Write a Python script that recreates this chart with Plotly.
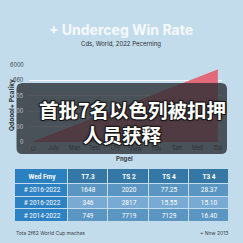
import plotly.graph_objects as go

# ---- data ----
months = ["Li", "July", "Man", "Test", "Uty", "View", "Tim", "Satt", "Mell", "Dal"]
rate = [0.0, 0.52, 1.04, 1.56, 2.08, 2.60, 3.12, 3.64, 4.16, 4.68]
y_tickvals = [0, 1, 2, 3, 4, 5]
y_ticktext = ["0", "100", "200", "505", "660", "6000"]

tbl_header = ["Wed Fmy", "T7.3", "TS 2", "TS 4", "T3 4"]
tbl_period = ["# 2016-2022", "# 2016-2022", "# 2014-2022"]
tbl_c1 = ["1648", "346", "749"]
tbl_c2 = ["2020", "2817", "7719"]
tbl_c3 = ["77.25", "15.55", "7129"]
tbl_c4 = ["28.37", "15.10", "16.40"]

title_txt = "+ Underceg Win Rate"
subtitle_txt = "Cds, World, 2022 Pecerning"
overlay_lines = ["首批7名以色列被扣押", "人员获释"]
footnote_left = "Tota 2f62 World Cup machas"
footnote_right = "+ Nnw 2013"

W = H = 243
BG = "#c3dceb"


def px(x):
    return x / W


def py(y):
    return 1 - y / H


fig = go.Figure()

fig.add_trace(go.Scatter(
    x=list(range(len(months))), y=rate, mode="lines",
    line=dict(color="#e0606f", width=1),
    fill="tozeroy", fillcolor="rgba(228,96,112,0.92)",
    hoverinfo="skip", showlegend=False,
))

# ---- table drawn as a heatmap grid ----
col_w = [53, 40, 40, 40, 40]
row_h = [15, 12.5, 12.5, 12.5]
x_edges = [0]
for w in col_w:
    x_edges.append(x_edges[-1] + w)
y_edges = [0]
for h in row_h:
    y_edges.append(y_edges[-1] + h)

rows = [[f"<b>{h}</b>" for h in tbl_header]]
for i in range(len(tbl_period)):
    rows.append([tbl_period[i], tbl_c1[i], tbl_c2[i], tbl_c3[i], tbl_c4[i]])
# colour class per cell: 0 header-first, 1 header, 2 first column, 3/4 alternating rows
zc = [[0] + [1] * 4]
for i in range(len(tbl_period)):
    zc.append([2] + [3 if i % 2 == 0 else 4] * 4)

fig.add_trace(go.Heatmap(
    x=x_edges, y=y_edges, z=zc, text=rows, texttemplate="%{text}",
    textfont=dict(family="Roboto", size=6.5, color="white"),
    colorscale=[[0, "#2b80c0"], [0.25, "#3578a6"], [0.5, "#2d82c4"], [0.75, "#5b96c3"], [1, "#79aad3"]],
    zmin=0, zmax=4, showscale=False, xgap=1, ygap=1, hoverinfo="skip",
    xaxis="x2", yaxis="y2",
))

# rounded overlay box
x0, x1, y0, y1, r = 16.5, 227, 83, 154, 6


def P(x, y):
    return f"{px(x):.5f},{py(y):.5f}"


path = (f"M {P(x0 + r, y0)} L {P(x1 - r, y0)} Q {P(x1, y0)} {P(x1, y0 + r)} "
        f"L {P(x1, y1 - r)} Q {P(x1, y1)} {P(x1 - r, y1)} L {P(x0 + r, y1)} "
        f"Q {P(x0, y1)} {P(x0, y1 - r)} L {P(x0, y0 + r)} Q {P(x0, y0)} {P(x0 + r, y0)} Z")
fig.add_shape(type="path", path=path, xref="paper", yref="paper",
              fillcolor="rgba(44,48,52,0.8)", line=dict(width=0), layer="above")

# tick labels drawn above the overlay (positions from the axes)
for v, t in zip(y_tickvals, y_ticktext):
    col = "#3a3f44" if v >= 4 else "#c4c9ce"
    fig.add_annotation(x=px(26), y=v, xref="paper", yref="y", text=t, showarrow=False,
                       xanchor="right", yanchor="middle",
                       font=dict(family="Inter", size=5.5, color=col))
for i, m in enumerate(months):
    fig.add_annotation(x=i, y=py(148), xref="x", yref="paper", text=m, showarrow=False,
                       xanchor="center", yanchor="middle",
                       font=dict(family="Inter", size=5.5, color="#2c3034"))

shadow = "1px 1px 0 #1a1a1a, -1px -1px 0 #1a1a1a, 1px -1px 0 #1a1a1a, -1px 1px 0 #1a1a1a, 0 0 3px #000"
fig.add_annotation(x=px(132), y=py(109), xref="paper", yref="paper", text=overlay_lines[0],
                   showarrow=False, xanchor="center", yanchor="middle",
                   font=dict(family="Noto Sans CJK SC", size=19.5, color="white", weight="bold", shadow=shadow))
fig.add_annotation(x=px(122), y=py(134), xref="paper", yref="paper", text=overlay_lines[1],
                   showarrow=False, xanchor="center", yanchor="middle",
                   font=dict(family="Noto Sans CJK SC", size=19.5, color="white", weight="bold", shadow=shadow))

fig.add_annotation(x=px(121), y=py(29), xref="paper", yref="paper", text=f"<b>{title_txt}</b>",
                   showarrow=False, xanchor="center", yanchor="middle",
                   font=dict(family="Inter", size=14, color="#f6f9fc", weight=800))
fig.add_annotation(x=px(121), y=py(44), xref="paper", yref="paper", text=subtitle_txt,
                   showarrow=False, xanchor="center", yanchor="middle",
                   font=dict(family="Inter", size=6, color="#2b2f33"))
fig.add_annotation(x=px(124), y=py(158), xref="paper", yref="paper", text="<b>Pngel</b>",
                   showarrow=False, xanchor="center", yanchor="middle",
                   font=dict(family="Inter", size=6, color="#3a3f44"))
fig.add_annotation(x=px(12), y=py(105), xref="paper", yref="paper", text="<b>Qdoool+ Pcaliky</b>",
                   showarrow=False, xanchor="center", yanchor="middle", textangle=-90,
                   font=dict(family="Inter", size=6.5, color="#2b2f33"))
fig.add_annotation(x=px(14), y=py(233), xref="paper", yref="paper", text=footnote_left,
                   showarrow=False, xanchor="left", yanchor="middle",
                   font=dict(family="Inter", size=5, color="#3a3f44"))
fig.add_annotation(x=px(230), y=py(233), xref="paper", yref="paper", text=footnote_right,
                   showarrow=False, xanchor="right", yanchor="middle",
                   font=dict(family="Inter", size=5, color="#3a3f44"))

fig.update_layout(
    width=W, height=H, margin=dict(l=0, r=0, t=0, b=0),
    paper_bgcolor=BG, plot_bgcolor=BG, showlegend=False,
    xaxis=dict(domain=[px(29), px(222)], range=[-0.2, 9.2], tickvals=list(range(len(months))),
               showticklabels=False, showgrid=False, zeroline=False, showline=False, ticks=""),
    yaxis=dict(domain=[py(142), py(65)], range=[0, 5], tickvals=y_tickvals,
               showticklabels=False, showgrid=True, gridcolor="rgba(255,255,255,0.8)",
               gridwidth=1, zeroline=False, ticks=""),
    xaxis2=dict(domain=[px(15), px(229)], range=[0, x_edges[-1]], visible=False, anchor="y2"),
    yaxis2=dict(domain=[py(222), py(169)], range=[y_edges[-1], 0], visible=False, anchor="x2"),
)

fig.write_html("out.html")
